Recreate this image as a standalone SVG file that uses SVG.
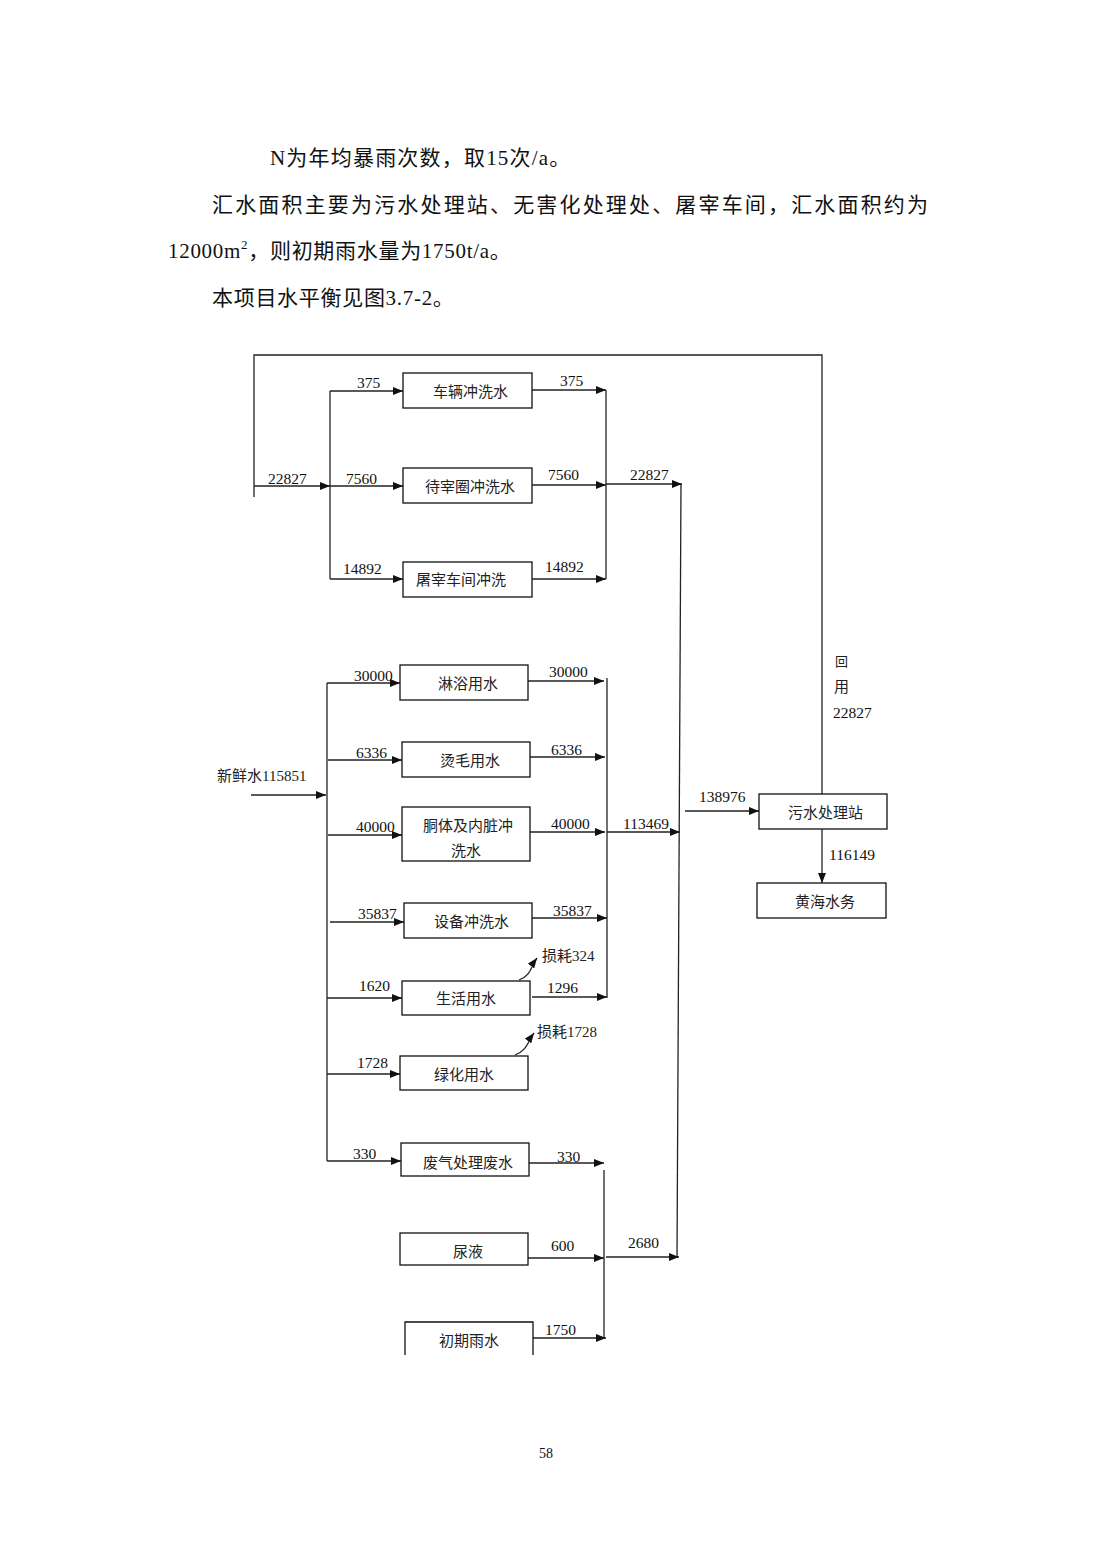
<svg xmlns="http://www.w3.org/2000/svg" width="1100" height="1556" viewBox="0 0 1100 1556">
<defs>
<marker id="ah" markerUnits="userSpaceOnUse" markerWidth="10" markerHeight="8" refX="10" refY="4" orient="auto">
<path d="M0,0 L10,4 L0,8 z" fill="#111"/>
</marker>
<style>
.ln{fill:none;stroke:#222;stroke-width:1.3}
.ar{fill:none;stroke:#222;stroke-width:1.3;marker-end:url(#ah)}
.bx{fill:#fff;stroke:#111;stroke-width:1.3}
.num{font-family:"Liberation Serif","Noto Sans CJK SC",serif;font-size:15.5px;fill:#111}
.cj{font-family:"Liberation Serif","Noto Sans CJK SC",serif;font-size:15px;fill:#222}
.hd{font-family:"Liberation Serif","Noto Sans CJK SC",serif;font-size:21px;fill:#111}
</style>
</defs>
<rect width="1100" height="1556" fill="#fff"/>

<g id="header">
<text class="hd" x="270" y="165" letter-spacing="1.2">N为年均暴雨次数，取15次/a。</text>
<text class="hd" x="212" y="212" textLength="716" lengthAdjust="spacing">汇水面积主要为污水处理站、无害化处理处、屠宰车间，汇水面积约为</text>
<text class="hd" x="168" y="258" letter-spacing="0.7">12000m<tspan font-size="13" dy="-9">2</tspan><tspan dy="9">，则初期雨水量为1750t/a。</tspan></text>
<text class="hd" x="212" y="305" letter-spacing="0.7">本项目水平衡见图3.7-2。</text>
<text class="num" x="539" y="1458" style="font-size:14px">58</text>
</g>

<g id="connectors">
<polyline class="ln" points="254,497 254,355 822,355 822,794"/>
<line class="ar" x1="254" y1="486" x2="330" y2="486"/>
<line class="ln" x1="330" y1="391" x2="330" y2="579"/>
<line class="ar" x1="330" y1="391" x2="403" y2="391"/>
<line class="ar" x1="330" y1="486" x2="403" y2="486"/>
<line class="ar" x1="330" y1="579" x2="403" y2="579"/>
<line class="ar" x1="532" y1="390" x2="606" y2="390"/>
<line class="ar" x1="532" y1="485" x2="606" y2="485"/>
<line class="ar" x1="532" y1="579" x2="606" y2="579"/>
<line class="ln" x1="606" y1="390" x2="606" y2="579"/>
<line class="ar" x1="606" y1="484" x2="682" y2="484"/>
<line class="ln" x1="681" y1="484" x2="677" y2="1257"/>

<line class="ar" x1="251" y1="795" x2="326" y2="795"/>
<line class="ln" x1="327" y1="683" x2="327" y2="1161"/>
<line class="ar" x1="327" y1="683" x2="400" y2="683"/>
<line class="ar" x1="328" y1="760" x2="402" y2="760"/>
<line class="ar" x1="328" y1="835" x2="402" y2="835"/>
<line class="ar" x1="330" y1="922" x2="404" y2="922"/>
<line class="ar" x1="327" y1="998" x2="402" y2="998"/>
<line class="ar" x1="327" y1="1074" x2="400" y2="1074"/>
<line class="ar" x1="327" y1="1161" x2="401" y2="1161"/>

<line class="ar" x1="528" y1="681" x2="604" y2="681"/>
<line class="ar" x1="530" y1="757" x2="605" y2="757"/>
<line class="ar" x1="530" y1="832" x2="605" y2="832"/>
<line class="ar" x1="532" y1="918" x2="607" y2="918"/>
<line class="ar" x1="532" y1="997" x2="607" y2="997"/>
<line class="ln" x1="607" y1="678" x2="607" y2="998"/>
<line class="ar" x1="607" y1="832" x2="680" y2="832"/>

<path class="ar" d="M519,980 C531,976 531,966 537,958"/>
<path class="ar" d="M515,1055 C527,1051 528,1041 534,1033"/>

<line class="ar" x1="685" y1="811" x2="759" y2="811"/>
<line class="ar" x1="822" y1="829" x2="822" y2="883"/>

<line class="ar" x1="529" y1="1163" x2="604" y2="1163"/>
<line class="ar" x1="528" y1="1258" x2="604" y2="1258"/>
<line class="ar" x1="533" y1="1338" x2="606" y2="1338"/>
<line class="ln" x1="604" y1="1170" x2="604" y2="1338"/>
<line class="ar" x1="606" y1="1257" x2="679" y2="1257"/>
</g>

<g id="labels">
<text class="num" x="268" y="484">22827</text>
<text class="num" x="357" y="388">375</text>
<text class="num" x="346" y="484">7560</text>
<text class="num" x="343" y="574">14892</text>
<text class="num" x="560" y="386">375</text>
<text class="num" x="548" y="480">7560</text>
<text class="num" x="545" y="572">14892</text>
<text class="num" x="630" y="480">22827</text>

<text class="cj" x="217" y="781">新鲜水115851</text>
<text class="num" x="354" y="681">30000</text>
<text class="num" x="356" y="758">6336</text>
<text class="num" x="356" y="832">40000</text>
<text class="num" x="358" y="919">35837</text>
<text class="num" x="359" y="991">1620</text>
<text class="num" x="357" y="1068">1728</text>
<text class="num" x="353" y="1159">330</text>

<text class="num" x="549" y="677">30000</text>
<text class="num" x="551" y="755">6336</text>
<text class="num" x="551" y="829">40000</text>
<text class="num" x="553" y="916">35837</text>
<text class="num" x="547" y="993">1296</text>
<text class="num" x="623" y="829">113469</text>
<text class="cj" x="542" y="961">损耗324</text>
<text class="cj" x="537" y="1037">损耗1728</text>

<text class="num" x="699" y="802">138976</text>
<text class="num" x="829" y="860">116149</text>
<text class="cj" x="835" y="666" style="font-size:13px">回</text>
<text class="cj" x="834" y="692">用</text>
<text class="num" x="833" y="718">22827</text>

<text class="num" x="557" y="1162">330</text>
<text class="num" x="551" y="1251">600</text>
<text class="num" x="545" y="1335">1750</text>
<text class="num" x="628" y="1248">2680</text>
</g>

<g id="n1"><rect class="bx" x="403" y="373" width="129" height="35"/><text class="cj" x="433" y="397">车辆冲洗水</text></g>
<g id="n2"><rect class="bx" x="403" y="468" width="129" height="35"/><text class="cj" x="425" y="492">待宰圈冲洗水</text></g>
<g id="n3"><rect class="bx" x="403" y="562" width="129" height="35"/><text class="cj" x="416" y="585">屠宰车间冲洗</text></g>

<g id="n4"><rect class="bx" x="400" y="665" width="128" height="35"/><text class="cj" x="438" y="689">淋浴用水</text></g>
<g id="n5"><rect class="bx" x="402" y="742" width="128" height="35"/><text class="cj" x="440" y="766">烫毛用水</text></g>
<g id="n6"><rect class="bx" x="402" y="807" width="128" height="54"/><text class="cj" x="423" y="831">胴体及内脏冲</text><text class="cj" x="451" y="856">洗水</text></g>
<g id="n7"><rect class="bx" x="404" y="903" width="128" height="35"/><text class="cj" x="434" y="927">设备冲洗水</text></g>
<g id="n8"><rect class="bx" x="402" y="981" width="128" height="34"/><text class="cj" x="436" y="1004">生活用水</text></g>
<g id="n9"><rect class="bx" x="400" y="1056" width="128" height="34"/><text class="cj" x="434" y="1080">绿化用水</text></g>
<g id="n10"><rect class="bx" x="401" y="1143" width="128" height="33"/><text class="cj" x="423" y="1168">废气处理废水</text></g>
<g id="n11"><rect class="bx" x="400" y="1233" width="128" height="32"/><text class="cj" x="453" y="1257">尿液</text></g>
<g id="n12"><path class="bx" d="M405,1355 L405,1322 L533,1322 L533,1355" fill="none"/><text class="cj" x="439" y="1346">初期雨水</text></g>

<g id="n13"><rect class="bx" x="759" y="794" width="128" height="35"/><text class="cj" x="788" y="818">污水处理站</text></g>
<g id="n14"><rect class="bx" x="757" y="883" width="129" height="35"/><text class="cj" x="795" y="907">黄海水务</text></g>
</svg>
